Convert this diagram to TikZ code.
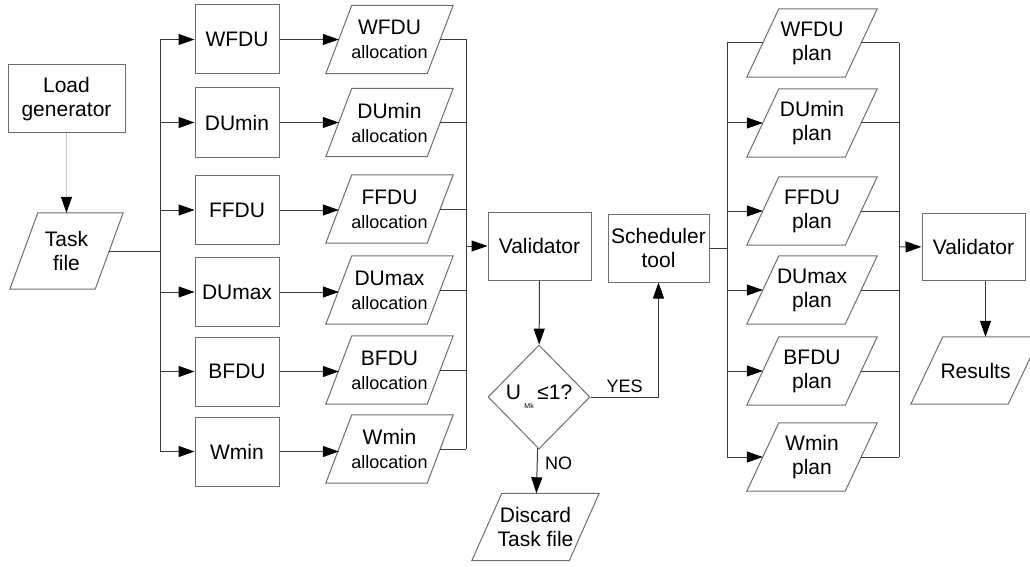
\documentclass[tikz,border=0pt]{standalone}
\usepackage{fontspec}
\setmainfont{Liberation Sans}
\usetikzlibrary{positioning, arrows.meta, shapes.geometric}
\definecolor{boxGray}{HTML}{6E6E6E}
\definecolor{lineGray}{HTML}{3A3A3A}
\definecolor{faintGray}{HTML}{C8C8C8}

\begin{document}
\begin{tikzpicture}[x=1pt, y=-1pt, font=\fontsize{21}{24}\selectfont,
    proc/.style={draw=boxGray, line width=1pt, minimum width=84pt, minimum height=69pt,
      align=center, inner sep=2pt},
    io/.style={minimum width=101pt, minimum height=68pt, inner sep=0pt, align=center,
      append after command={\pgfextra{\draw[draw=boxGray, line width=1pt]
        ([xshift=-#1]\tikzlastnode.south west) -- ([xshift=#1]\tikzlastnode.north west)
        -- ([xshift=#1]\tikzlastnode.north east) -- ([xshift=-#1]\tikzlastnode.south east)
        -- cycle;}}},
    io/.default=13pt,
    test/.style={draw=boxGray, line width=1pt, diamond, aspect=1, minimum width=102pt,
      minimum height=104pt, inner sep=0pt},
    wire/.style={draw=lineGray, line width=1pt},
    arr/.style={wire, -{Triangle[length=16pt, width=11pt, color=black]}},
    small/.style={font=\fontsize{18}{20}\selectfont}]
    \useasboundingbox (0,0) rectangle (1030,567);
    % generator and task file
    \node[proc, minimum width=117pt, minimum height=68pt] (load) at (66.5,99) {Load\\generator};
    \node[io=14pt, minimum width=85pt, minimum height=76pt] (task) at (66.5,251) {Task\\file};
    % allocation heuristics
    \node[proc] (wfdu) at (237,39.5) {WFDU};
    \node[proc] (dumin) at (237,122.5) {DUmin};
    \node[proc] (ffdu) at (237,210) {FFDU};
    \node[proc] (dumax) at (237,292) {DUmax};
    \node[proc] (bfdu) at (237,371.5) {BFDU};
    \node[proc] (wmin) at (237,451.5) {Wmin};
    \node[io] (wfduA) at (389.5,39.5) {WFDU\\{\fontsize{18}{20}\selectfont allocation}};
    \node[io] (duminA) at (389.5,122.5) {DUmin\\{\fontsize{18}{20}\selectfont allocation}};
    \node[io] (ffduA) at (389.5,209) {FFDU\\{\fontsize{18}{20}\selectfont allocation}};
    \node[io] (dumaxA) at (389.5,290) {DUmax\\{\fontsize{18}{20}\selectfont allocation}};
    \node[io] (bfduA) at (389.5,370) {BFDU\\{\fontsize{18}{20}\selectfont allocation}};
    \node[io] (wminA) at (389.5,449) {Wmin\\{\fontsize{18}{20}\selectfont allocation}};
    % validation
    \node[proc, minimum width=103pt, minimum height=68pt] (val) at (539.5,246) {Validator};
    \node[test] (check) at (539,397) {U\,\raisebox{-9pt}{\fontsize{7}{7}\selectfont Mk}\,≤1?};
    \node[io=15pt, minimum width=97pt, minimum height=67pt] (discard) at (535.5,527) {Discard\\Task file};
    \node[proc, minimum width=101pt, minimum height=68pt] (sched) at (658.5,248) {Scheduler\\tool};
    % plans
    \node[io=16pt, minimum width=98pt] (wfduP) at (812,43) {WFDU\\plan};
    \node[io=16pt, minimum width=98pt] (duminP) at (812,123) {DUmin\\plan};
    \node[io=16pt, minimum width=98pt] (ffduP) at (812,211) {FFDU\\plan};
    \node[io=16pt, minimum width=98pt] (dumaxP) at (812,290) {DUmax\\plan};
    \node[io=16pt, minimum width=98pt] (bfduP) at (812,371) {BFDU\\plan};
    \node[io=16pt, minimum width=98pt] (wminP) at (812,457) {Wmin\\plan};
    \node[proc, minimum width=103pt, minimum height=67pt] (val2) at (973.5,246.5) {Validator};
    \node[io=16pt, minimum width=97pt, minimum height=67pt] (res) at (975.5,370.5) {Results};
    % buses
    \coordinate (lbus) at (160,251);
    \coordinate (abus) at (466,246);
    \coordinate (pbus) at (727,248);
    \coordinate (qbus) at (899,247);
    \draw[wire, draw=faintGray, -{Triangle[length=16pt, width=11pt, color=black]}] (load) -- (task);
    \draw[wire] (task) -- (lbus);
    \draw[wire] (lbus |- wfdu) -- (lbus |- wmin);
    \draw[arr] (lbus |- wfdu) -- (wfdu);
    \draw[arr] (lbus |- dumin) -- (dumin);
    \draw[arr] (lbus |- ffdu) -- (ffdu);
    \draw[arr] (lbus |- dumax) -- (dumax);
    \draw[arr] (lbus |- bfdu) -- (bfdu);
    \draw[arr] (lbus |- wmin) -- (wmin);
    \draw[arr] (wfdu) -- (wfdu -| wfduA.west);
    \draw[arr] (dumin) -- (dumin -| duminA.west);
    \draw[arr] (ffdu) -- (ffdu -| ffduA.west);
    \draw[arr] (dumax) -- (dumax -| dumaxA.west);
    \draw[arr] (bfdu) -- (bfdu -| bfduA.west);
    \draw[arr] (wmin) -- (wmin -| wminA.west);
    \draw[wire] (wfduA) -- (wfduA -| abus);
    \draw[wire] (duminA) -- (duminA -| abus);
    \draw[wire] (ffduA) -- (ffduA -| abus);
    \draw[wire] (dumaxA) -- (dumaxA -| abus);
    \draw[wire] (bfduA) -- (bfduA -| abus);
    \draw[wire] (wminA) -- (wminA -| abus);
    \draw[wire] (abus |- wfduA) -- (abus |- wminA);
    \draw[arr] (abus) -- (val);
    \draw[arr] (val) -- (check);
    \draw[arr] (check) -- node[right=4pt, pos=0.33, small]{NO} (discard);
    \draw[arr] (check) -| node[above, pos=0.25, small]{YES} (sched);
    \draw[wire] (sched) -- (pbus);
    \draw[wire] (pbus |- wfduP) -- (pbus |- wminP);
    \draw[wire] (pbus |- wfduP) -- (wfduP);
    \draw[arr] (pbus |- duminP) -- (duminP);
    \draw[arr] (pbus |- ffduP) -- (ffduP);
    \draw[arr] (pbus |- dumaxP) -- (dumaxP);
    \draw[arr] (pbus |- bfduP) -- (bfduP);
    \draw[arr] (pbus |- wminP) -- (wminP);
    \draw[wire] (wfduP) -- (wfduP -| qbus);
    \draw[wire] (duminP) -- (duminP -| qbus);
    \draw[wire] (ffduP) -- (ffduP -| qbus);
    \draw[wire] (dumaxP) -- (dumaxP -| qbus);
    \draw[wire] (bfduP) -- (bfduP -| qbus);
    \draw[wire] (wminP) -- (wminP -| qbus);
    \draw[wire] (qbus |- wfduP) -- (qbus |- wminP);
    \draw[arr] (qbus) -- (val2);
    \draw[arr] ([xshift=12pt]val2.south) -- ([xshift=12pt]val2.south |- res.north);
\end{tikzpicture}
\end{document}
